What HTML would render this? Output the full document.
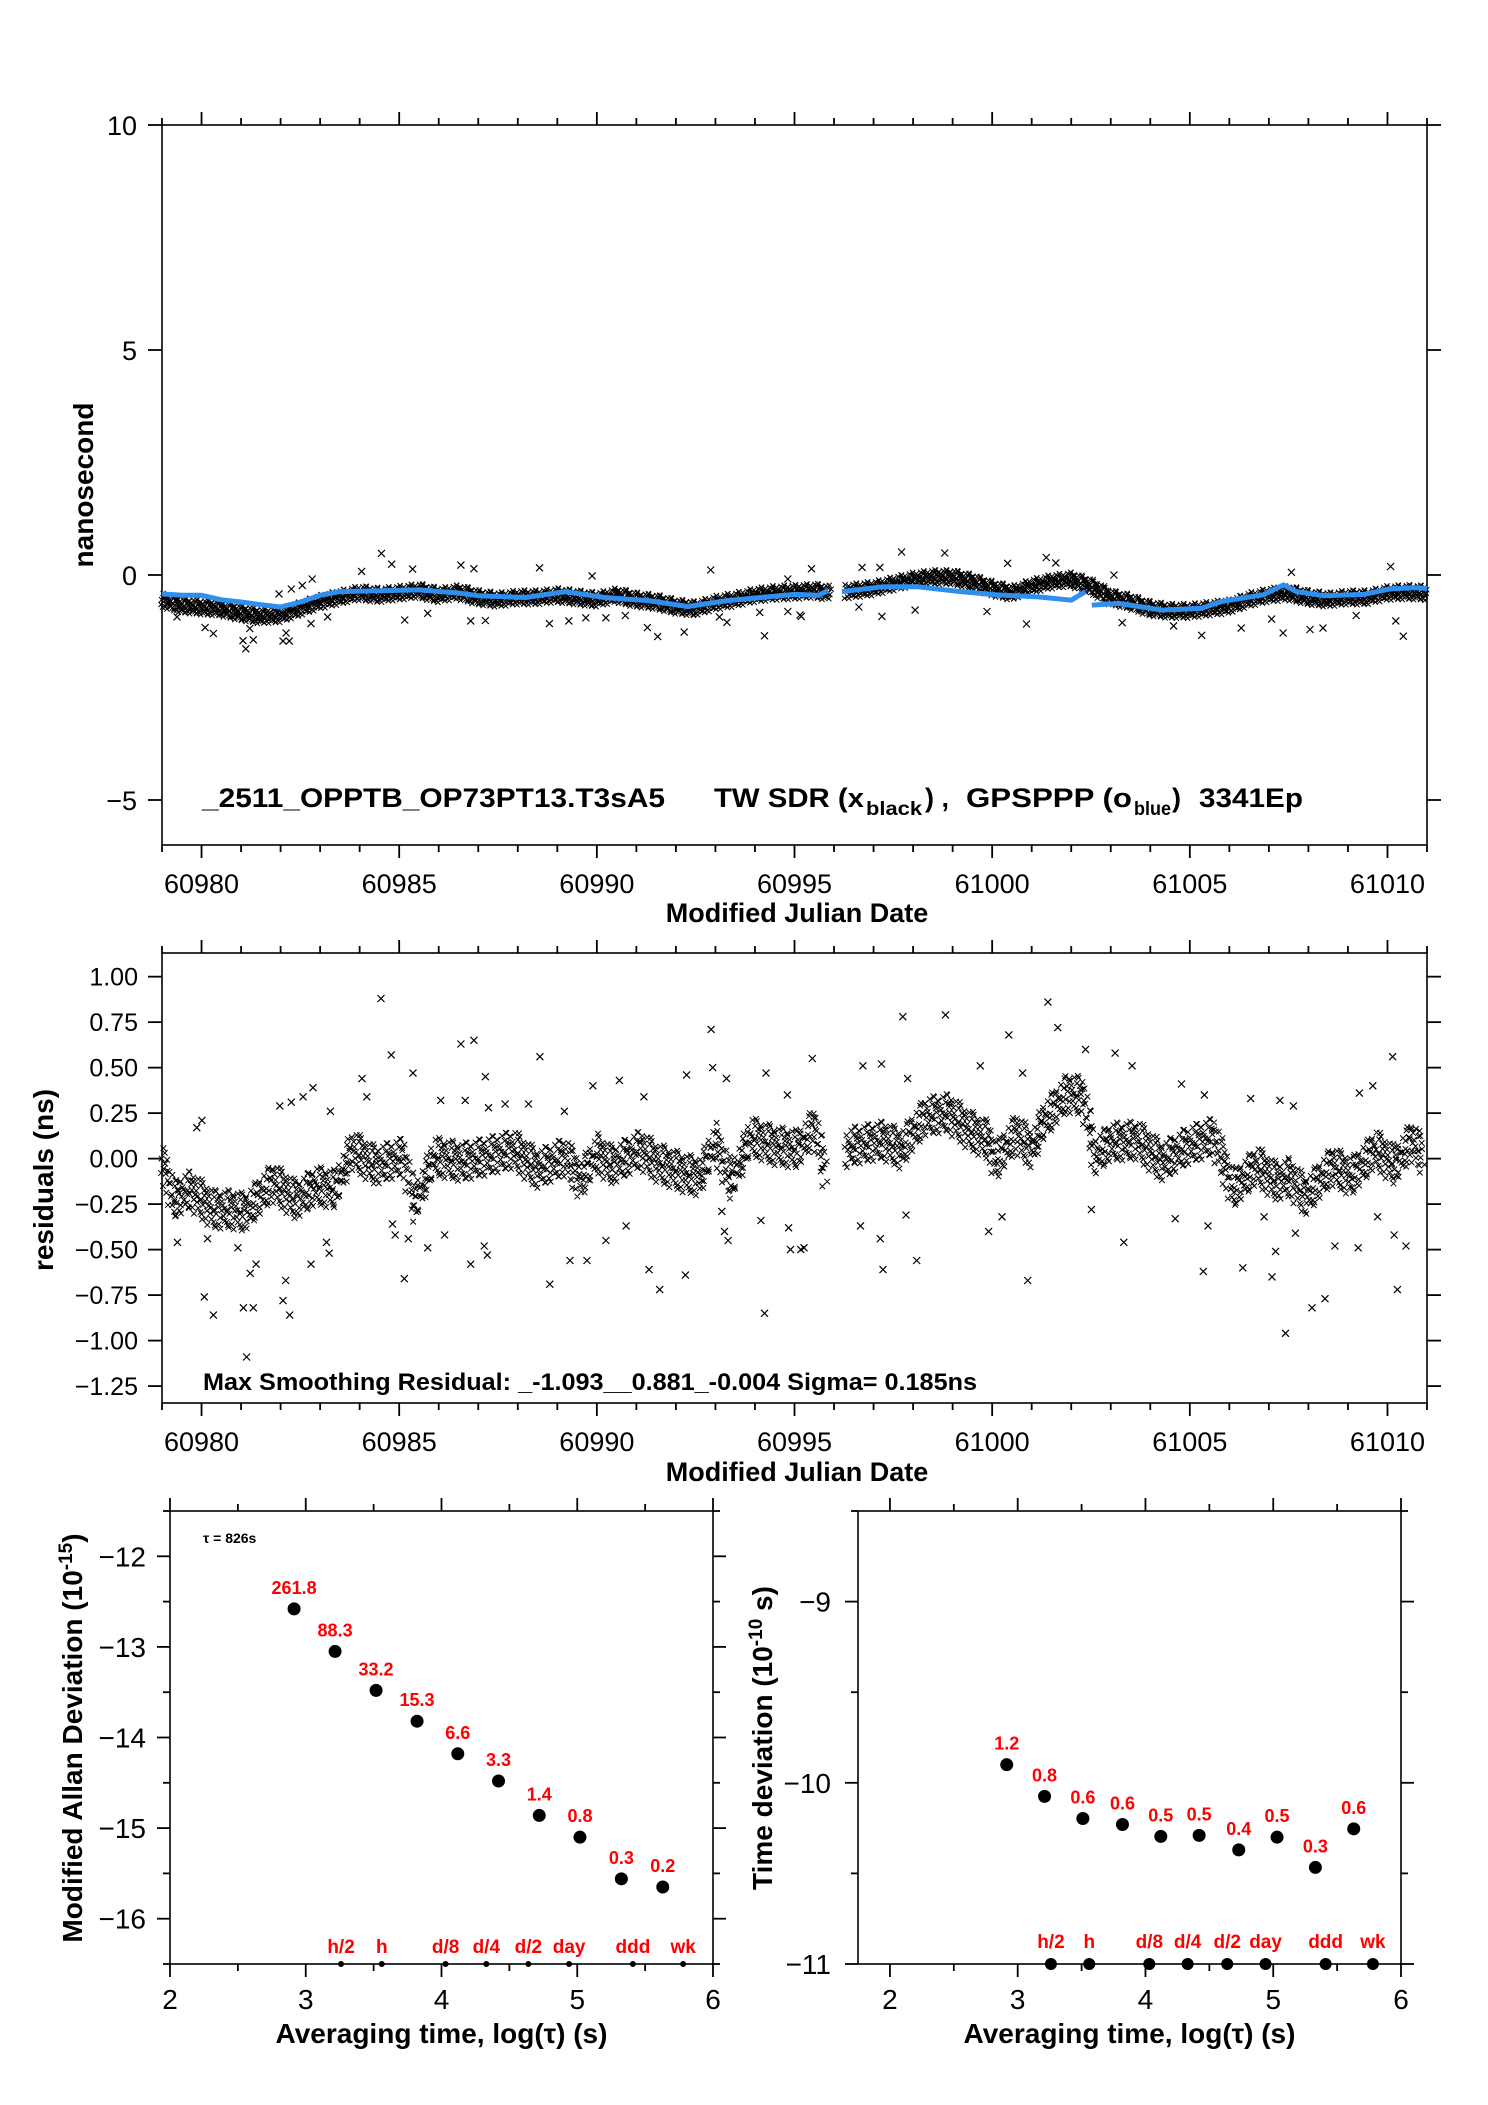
<!DOCTYPE html>
<html><head><meta charset="utf-8"><style>
html,body{margin:0;padding:0;background:#fff;}
svg{display:block;font-family:"Liberation Sans",sans-serif;}
</style></head><body>
<svg id="fig" xmlns="http://www.w3.org/2000/svg" width="1488" height="2105" viewBox="0 0 1488 2105">
<rect width="1488" height="2105" fill="#fff"/>
<g id="top"></g>
<g id="mid"></g>
<g id="adev"></g>
<g id="tdev"></g>
</svg>
<script>
// ---- Top chart data (MJD, ns) ----
const blackTrendMjd=[60979,60979.5,60980,60980.5,60981,60981.5,60982,60982.5,60983,60983.5,60984,60984.5,60985,60985.5,60986,60986.5,60987,60987.5,60988,60988.5,60989,60989.5,60990,60990.5,60991,60991.5,60992,60992.5,60993,60993.5,60994,60994.5,60995,60995.5,60995.9,null,60996.3,60997,60997.5,60998,60998.5,60999,60999.5,61000,61000.5,61001,61001.5,61002,61002.5,61003,61003.5,61004,61004.5,61005,61005.5,61006,61006.5,61007,61007.5,61008,61008.5,61009,61009.5,61010,61010.5,61011];
const blackTrendNs=[-0.55,-0.68,-0.72,-0.75,-0.85,-0.92,-0.9,-0.75,-0.6,-0.5,-0.4,-0.45,-0.4,-0.35,-0.45,-0.38,-0.5,-0.55,-0.5,-0.5,-0.45,-0.5,-0.55,-0.45,-0.55,-0.6,-0.7,-0.75,-0.62,-0.55,-0.45,-0.4,-0.38,-0.35,-0.4,null,-0.37,-0.3,-0.2,-0.1,-0.05,-0.05,-0.15,-0.3,-0.4,-0.25,-0.15,-0.1,-0.25,-0.5,-0.6,-0.75,-0.8,-0.8,-0.75,-0.7,-0.55,-0.45,-0.4,-0.5,-0.55,-0.5,-0.5,-0.4,-0.38,-0.4];
const blueMjd=[60979,60979.5,60980,60980.5,60981,60981.5,60982,60982.5,60983,60983.5,60984.5,60985.5,60986.5,60987,60988.2,60989.2,60990.2,60991.3,60992.3,60993.3,60995,60995.6,60995.85,null,60996.2,60997.25,60998.1,60999.1,61000.1,61001.2,61002.0,61002.36,null,61002.52,61003.2,61004.3,61005.3,61005.8,61006.86,61007.37,61007.7,61008.4,61009.4,61010.05,61010.67,61011];
const blueNs=[-0.42,-0.45,-0.45,-0.55,-0.6,-0.66,-0.71,-0.6,-0.45,-0.37,-0.35,-0.33,-0.4,-0.46,-0.5,-0.37,-0.5,-0.57,-0.7,-0.57,-0.43,-0.45,-0.35,null,-0.37,-0.26,-0.26,-0.36,-0.44,-0.49,-0.56,-0.37,null,-0.67,-0.63,-0.78,-0.74,-0.59,-0.44,-0.22,-0.37,-0.46,-0.43,-0.31,-0.28,-0.3];
const topOutMjd=[60984.55,60984.81,60985.34,60986.56,60986.89,60988.55,60992.88,60989.88,60984.05,60982.80,60980.09,60980.30,60981.05,60981.31,60981.12,60982.14,60982.06,60982.22,60981.22,60985.14,60985.72,60986.81,60987.18,60988.80,60989.29,60989.72,60990.23,60990.72,60991.28,60991.54,60992.21,60994.24,60994.12,60993.10,60993.29,60979.38,60982.77,60983.19,60981.96,60982.27,60982.55,60994.83,60994.83,60995.17,60997.71,60998.80,61001.37,61001.61,60995.43,60996.71,60997.16,61000.39,61003.08,61010.08,61007.57,60995.14,60996.63,60997.21,60998.05,61000.87,60999.87,61003.29,61005.30,61006.30,61007.36,61008.04,61008.37,61010.21,61010.40,61004.59,61009.21,61007.07];
const topOutNs=[0.48,0.24,0.13,0.22,0.14,0.16,0.11,-0.02,0.08,-0.09,-1.17,-1.30,-1.46,-1.44,-1.64,-1.29,-1.47,-1.47,-1.19,-1.00,-0.85,-1.02,-1.01,-1.08,-1.02,-0.95,-0.95,-0.90,-1.17,-1.37,-1.27,-1.35,-0.83,-0.93,-1.05,-0.93,-1.08,-0.93,-0.42,-0.31,-0.23,-0.09,-0.81,-0.92,0.51,0.49,0.39,0.27,0.14,0.17,0.17,0.26,0.0,0.19,0.06,-0.89,-0.71,-0.92,-0.78,-1.09,-0.81,-1.06,-1.34,-1.18,-1.29,-1.21,-1.18,-1.02,-1.36,-1.13,-0.90,-0.98];
const topYTicks=[-5,0,5,10];
const mjdTicks=[60980,60985,60990,60995,61000,61005,61010];

// ---- Residuals data ----
const resTrendMjd=[60979.0,60979.3,60979.7,60980.3,60980.8,60981.1,60981.8,60982.4,60982.9,60983.4,60983.8,60984.4,60985.1,60985.4,60985.9,60986.6,60987.2,60987.9,60988.5,60989.2,60989.6,60990.0,60990.4,60991.1,60991.5,60992.2,60992.6,60993.0,60993.4,60993.9,60994.5,60995.1,60995.5,60995.8,null,60996.3,60996.5,60997.25,60997.7,60998.3,60998.9,60999.4,60999.9,61000.1,61000.6,61001.0,61001.3,61001.9,61002.3,61002.6,61003.0,61003.7,61004.3,61004.95,61005.6,61006.1,61006.7,61007.2,61007.5,61007.95,61008.6,61009.1,61009.7,61010.2,61010.6,61010.9];
const resTrendNs=[0.0,-0.23,-0.17,-0.28,-0.28,-0.30,-0.13,-0.23,-0.15,-0.17,0.05,-0.04,0.01,-0.25,0.01,-0.02,0.01,0.05,-0.06,0.01,-0.12,0.03,-0.04,0.05,-0.02,-0.08,-0.10,0.09,-0.13,0.12,0.07,0.05,0.18,-0.10,null,0.05,0.07,0.10,0.05,0.23,0.25,0.16,0.10,-0.02,0.14,0.05,0.20,0.36,0.34,0.01,0.09,0.10,-0.02,0.07,0.12,-0.17,-0.04,-0.13,-0.10,-0.21,-0.04,-0.10,0.05,-0.04,0.10,0.01];
const resOutMjd=[60984.54,60984.80,60986.56,60986.89,60988.56,60992.89,60992.93,60989.90,60990.57,60992.27,60993.28,60994.28,60994.82,60987.18,60985.35,60984.06,60982.82,60981.98,60982.27,60982.57,60983.26,60984.18,60986.05,60986.67,60987.26,60987.68,60988.27,60989.18,60991.19,60980.01,60979.88,60979.39,60980.07,60980.30,60981.06,60981.31,60981.14,60981.23,60982.06,60982.23,60982.13,60982.77,60983.23,60983.16,60985.13,60985.23,60985.72,60986.15,60986.81,60987.23,60988.81,60989.32,60989.75,60990.23,60990.74,60991.32,60991.59,60992.24,60994.24,60994.15,60994.85,60994.90,60995.24,60993.32,60993.23,60993.16,60984.83,60984.90,60980.15,60980.92,60981.38,60987.15,61001.41,60998.82,60997.74,61001.66,61000.42,61002.36,61003.11,60995.45,60996.73,60997.20,61010.13,61003.54,61004.79,61009.63,61009.29,61007.28,61007.62,61006.54,61005.37,61000.77,60997.86,60999.70,61007.42,61008.09,61008.42,61010.25,61007.08,61005.34,61006.34,61000.90,60997.24,60998.09,60997.17,60996.67,60995.16,60999.91,61000.25,61003.33,61004.63,61005.46,61006.88,61007.17,61007.67,61008.67,61009.26,61010.17,61010.47,61009.75,61002.51,60997.82];
const resOutNs=[0.88,0.57,0.63,0.65,0.56,0.71,0.50,0.40,0.43,0.46,0.44,0.47,0.35,0.45,0.47,0.44,0.39,0.29,0.31,0.34,0.26,0.34,0.32,0.32,0.28,0.30,0.30,0.26,0.34,0.21,0.17,-0.46,-0.76,-0.86,-0.82,-0.82,-1.09,-0.63,-0.78,-0.86,-0.67,-0.58,-0.52,-0.46,-0.66,-0.44,-0.49,-0.42,-0.58,-0.53,-0.69,-0.56,-0.56,-0.45,-0.37,-0.61,-0.72,-0.64,-0.85,-0.34,-0.38,-0.50,-0.49,-0.45,-0.40,-0.29,-0.36,-0.42,-0.44,-0.49,-0.58,-0.48,0.86,0.79,0.78,0.72,0.68,0.60,0.58,0.55,0.51,0.52,0.56,0.51,0.41,0.40,0.36,0.32,0.29,0.33,0.35,0.47,0.44,0.51,-0.96,-0.82,-0.77,-0.72,-0.65,-0.62,-0.60,-0.67,-0.61,-0.56,-0.44,-0.37,-0.50,-0.40,-0.32,-0.46,-0.33,-0.37,-0.32,-0.51,-0.41,-0.48,-0.49,-0.42,-0.48,-0.32,-0.28,-0.31];
const resYTicks=[1.00,0.75,0.50,0.25,0.00,-0.25,-0.50,-0.75,-1.00,-1.25];
const resYLabels=["1.00","0.75","0.50","0.25","0.00","\u22120.25","\u22120.50","\u22120.75","\u22121.00","\u22121.25"];

// ---- Allan deviation data ----
const adevLogTau=[2.914,3.216,3.518,3.82,4.12,4.42,4.72,5.02,5.325,5.63];
const adevVal=[-12.58,-13.05,-13.48,-13.82,-14.18,-14.48,-14.86,-15.1,-15.56,-15.65];
const adevLabels=["261.8","88.3","33.2","15.3","6.6","3.3","1.4","0.8","0.3","0.2"];
const tdevLogTau=[2.914,3.21,3.51,3.82,4.12,4.42,4.73,5.03,5.33,5.63];
const tdevVal=[-9.90,-10.075,-10.197,-10.23,-10.296,-10.29,-10.37,-10.30,-10.467,-10.254];
const tdevLabels=["1.2","0.8","0.6","0.6","0.5","0.5","0.4","0.5","0.3","0.6"];
const markerNames=["h/2","h","d/8","d/4","d/2","day","ddd","wk"];
const markerLogTau=[3.26,3.56,4.03,4.33,4.64,4.94,5.41,5.78];
const adevYTicks=[-12,-13,-14,-15,-16];
const tdevYTicks=[-9,-10,-11];
const tauTicks=[2,3,4,5,6];

const NS="http://www.w3.org/2000/svg";
const jitter=[0,-0.62,0.48,-0.21,0.91,-0.88,0.33,-0.41,0.72,0.12,-0.73,0.41,-0.05,0.66,-0.95,0.22,-0.33,0.85,-0.57,0.05,0.58,-0.12,-0.79,0.97];
function mk(parent,tag,attrs,text){const e=document.createElementNS(NS,tag);for(const k in attrs)e.setAttribute(k,attrs[k]);if(text!==undefined)e.textContent=text;parent.appendChild(e);return e;}
function lin(d0,d1,r0,r1){return v=>r0+(v-d0)*(r1-r0)/(d1-d0);}
function pathFrom(xs,ys,sx,sy){let d="",pen=false;for(let i=0;i<xs.length;i++){if(xs[i]===null||ys[i]===null){pen=false;continue;}d+=(pen?"L":"M")+sx(xs[i]).toFixed(1)+" "+sy(ys[i]).toFixed(1);pen=true;}return d;}
function crossD(x,y,s){return `M${(x-s).toFixed(1)} ${(y-s).toFixed(1)}L${(x+s).toFixed(1)} ${(y+s).toFixed(1)}M${(x-s).toFixed(1)} ${(y+s).toFixed(1)}L${(x+s).toFixed(1)} ${(y-s).toFixed(1)}`;}
function cross(g,x,y,s){const p=mk(g,"path",{d:crossD(x,y,s),stroke:"#000","stroke-width":1.2,fill:"none"});}
// dense band of x marks along a trend (texture of the scatter cloud)
function bandCrosses(g,xs,ys,sx,sy,step,half,size,name){
 let d="",k=0;
 for(let i=0;i<xs.length-1;i++){
  if(xs[i]===null||xs[i+1]===null)continue;
  for(let t=xs[i];t<xs[i+1];t+=step){
   const f=(t-xs[i])/(xs[i+1]-xs[i]);const v=ys[i]+(ys[i+1]-ys[i])*f;
   const j=jitter[k%jitter.length];const j2=jitter[(k*7+3)%jitter.length];k++;
   d+=crossD(sx(t)+j2*2,sy(v+j*half),size);
  }
 }
 const p=mk(g,"path",{d:d,stroke:"#000","stroke-width":1,fill:"none"});
 
}
function frame(g,L,T,R,B){const r=mk(g,"rect",{x:L,y:T,width:R-L,height:B-T,fill:"none",stroke:"#000","stroke-width":1.6});}
function tick(g,x1,y1,x2,y2){mk(g,"line",{x1,y1,x2,y2,stroke:"#000","stroke-width":1.8});}

// ===== TOP CHART =====
(function(){
const g=document.getElementById('top');
const L=162,R=1427,T=125,B=845;
const sx=lin(60979,61011,L,R), sy=lin(-6,10,B,T);
frame(g,L,T,R,B);
for(let d=60979;d<=61011;d++){const maj=(d%5===0);const len=maj?13:7;tick(g,sx(d),T,sx(d),T-len);tick(g,sx(d),B,sx(d),B+len);}
mjdTicks.forEach(v=>{const t=mk(g,"text",{x:sx(v),y:sy(-6)+48,"font-size":27,"text-anchor":"middle"},String(v));});
topYTicks.forEach(v=>{tick(g,L,sy(v),L-14,sy(v));tick(g,R,sy(v),R+14,sy(v));const t=mk(g,"text",{x:137,y:sy(v)+10,"font-size":27,"text-anchor":"end"},v<0?"\u2212"+Math.abs(v):String(v));});
bandCrosses(g,blackTrendMjd,blackTrendNs,sx,sy,0.012,0.17,2.6,'tw-sdr-series');
const og=mk(g,"g",{});
for(let i=0;i<topOutMjd.length;i++)cross(og,sx(topOutMjd[i]),sy(topOutNs[i]),3.5);
const bl=mk(g,"path",{d:pathFrom(blueMjd,blueNs,sx,sy),stroke:"#2e8fef","stroke-width":5,fill:"none","stroke-linejoin":"round"});

const yl=mk(g,"text",{x:0,y:0,"font-size":28,"font-weight":"bold","text-anchor":"middle",transform:"translate(93,485) rotate(-90)"},"nanosecond");

const xl=mk(g,"text",{x:797,y:922,"font-size":27,"font-weight":"bold","text-anchor":"middle"},"Modified Julian Date");

const lg=mk(g,"text",{x:202,y:807,"font-size":27,"font-weight":"bold"});

lg.innerHTML='<tspan x="202" textLength="463" lengthAdjust="spacingAndGlyphs">_2511_OPPTB_OP73PT13.T3sA5</tspan>'+
'<tspan x="714" textLength="150" lengthAdjust="spacingAndGlyphs">TW SDR (x</tspan>'+
'<tspan x="866" dy="8" font-size="19" textLength="56" lengthAdjust="spacingAndGlyphs">black</tspan>'+
'<tspan x="925" dy="-8">) ,</tspan>'+
'<tspan x="966" textLength="166" lengthAdjust="spacingAndGlyphs">GPSPPP (o</tspan>'+
'<tspan x="1134" dy="8" font-size="19" textLength="37" lengthAdjust="spacingAndGlyphs">blue</tspan>'+
'<tspan x="1172" dy="-8">)</tspan>'+
'<tspan x="1199" textLength="104" lengthAdjust="spacingAndGlyphs">3341Ep</tspan>';
})();

// ===== RESIDUALS =====
(function(){
const g=document.getElementById('mid');
const L=162,R=1427,T=953,B=1403;
const sx=lin(60979,61011,L,R), sy=lin(-1.343,1.13,B,T);
frame(g,L,T,R,B);
for(let d=60979;d<=61011;d++){const maj=(d%5===0);const len=maj?13:7;tick(g,sx(d),T,sx(d),T-len);tick(g,sx(d),B,sx(d),B+len);}
mjdTicks.forEach(v=>{const t=mk(g,"text",{x:sx(v),y:B+48,"font-size":27,"text-anchor":"middle"},String(v));});
resYTicks.forEach((v,i)=>{tick(g,L,sy(v),L-14,sy(v));tick(g,R,sy(v),R+14,sy(v));const t=mk(g,"text",{x:138,y:sy(v)+9,"font-size":25,"text-anchor":"end"},resYLabels[i]);});
bandCrosses(g,resTrendMjd,resTrendNs,sx,sy,0.014,0.11,2.8,'residual-series');
const og=mk(g,"g",{});
for(let i=0;i<resOutMjd.length;i++)cross(og,sx(resOutMjd[i]),sy(resOutNs[i]),3.5);
const yl=mk(g,"text",{x:0,y:0,"font-size":28,"font-weight":"bold","text-anchor":"middle",transform:"translate(53,1180) rotate(-90)"},"residuals (ns)");

const xl=mk(g,"text",{x:797,y:1481,"font-size":27,"font-weight":"bold","text-anchor":"middle"},"Modified Julian Date");

const st=mk(g,"text",{x:203,y:1390,"font-size":24,"font-weight":"bold",textLength:774,lengthAdjust:"spacingAndGlyphs"},"Max Smoothing Residual: _-1.093__0.881_-0.004  Sigma= 0.185ns");

})();

// ===== STABILITY PLOTS =====
function stab(id,L,R,xd0,yd0,yd1,xs,ys,labels,yticks,ylabX,title,titleX,big){
const g=document.getElementById(id);
const T=1511,B=1964;
const sx=lin(xd0,6,L,R), sy=lin(yd0,yd1,B,T);
frame(g,L,T,R,B);
for(let v=2;v<=6;v+=0.5){const maj=Number.isInteger(v);const len=maj?13:7;tick(g,sx(v),T,sx(v),T-len);tick(g,sx(v),B,sx(v),B+len);}
tauTicks.forEach(v=>{const t=mk(g,"text",{x:sx(v),y:2009,"font-size":28,"text-anchor":"middle"},String(v));});
for(let v=Math.ceil(yd0*2)/2;v<=yd1+1e-9;v+=0.5){const maj=Number.isInteger(v);const len=maj?13:7;tick(g,L,sy(v),L-len,sy(v));tick(g,R,sy(v),R+len,sy(v));}
yticks.forEach(v=>{const t=mk(g,"text",{x:ylabX,y:sy(v)+10,"font-size":28,"text-anchor":"end"},"\u2212"+Math.abs(v));});
for(let i=0;i<xs.length;i++){
 const c=mk(g,"circle",{cx:sx(xs[i]),cy:sy(ys[i]),r:6.5,fill:"#000"});
 
 const t=mk(g,"text",{x:sx(xs[i]),y:sy(ys[i])-15,"font-size":18,"font-weight":"bold",fill:"#f00","text-anchor":"middle"},labels[i]);
 
}
for(let i=0;i<markerNames.length;i++){
 const c=mk(g,"circle",{cx:sx(markerLogTau[i]),cy:B,r:big?6:3,fill:"#000"});
 
 const t=mk(g,"text",{x:sx(markerLogTau[i]),y:big?B-16:B-11,"font-size":19,"font-weight":"bold",fill:"#f00","text-anchor":"middle"},markerNames[i]);
 
}
const xl=mk(g,"text",{x:(L+R)/2,y:2043,"font-size":28,"font-weight":"bold","text-anchor":"middle"},"Averaging time, log(\u03c4) (s)");

const yl=mk(g,"text",{x:0,y:0,"font-size":28,"font-weight":"bold","text-anchor":"middle",transform:`translate(${titleX},${title[1]}) rotate(-90)`});
yl.innerHTML=title[0];

return g;
}
const ga=stab('adev',170,713,2,-16.5,-11.5,adevLogTau,adevVal,adevLabels,adevYTicks,146,['Modified Allan Deviation (10<tspan font-size="19" dy="-10">-15</tspan><tspan dy="10">)</tspan>',1738],82,false);
const tl=mk(ga,"text",{x:203,y:1543,"font-size":14,"font-weight":"bold"},"\u03c4 = 826s");

stab('tdev',858,1401,1.75,-11,-8.5,tdevLogTau,tdevVal,tdevLabels,tdevYTicks,831,['Time deviation (10<tspan font-size="19" dy="-10">-10</tspan><tspan dy="10"> s)</tspan>',1738],772,true);
</script>
</body></html>
